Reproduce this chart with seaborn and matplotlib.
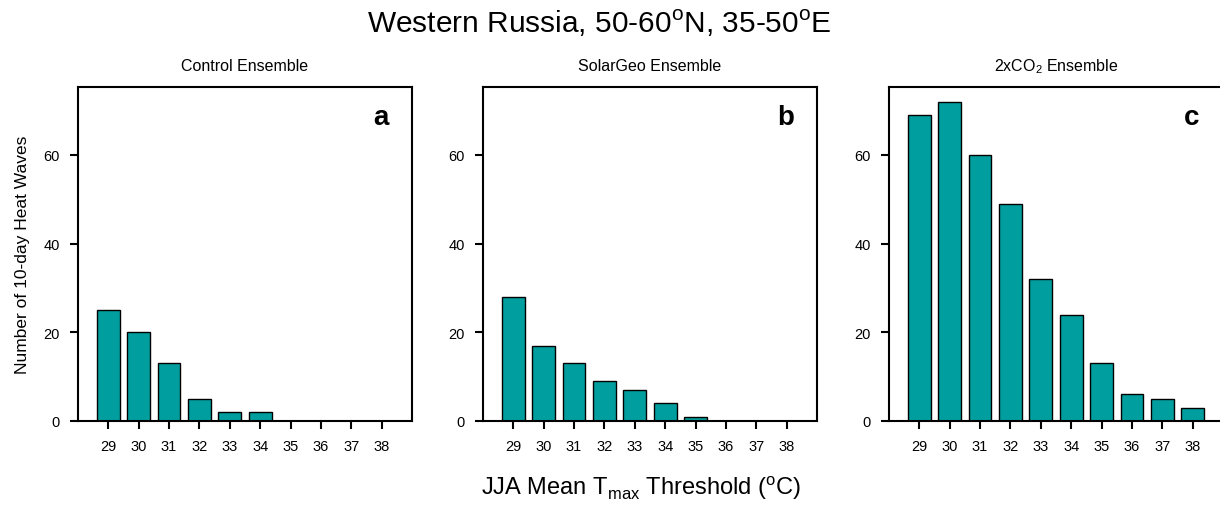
import numpy as np
import pandas as pd
import matplotlib
matplotlib.use("Agg")
import matplotlib.pyplot as plt
import seaborn as sns

# data
thresholds = ["29", "30", "31", "32", "33", "34", "35", "36", "37", "38"]
control = [25, 20, 13, 5, 2, 2, 0, 0, 0, 0]
solargeo = [28, 17, 13, 9, 7, 4, 1, 0, 0, 0]
co2 = [69, 72, 60, 49, 32, 24, 13, 6, 5, 3]

titles = ["Control Ensemble", "SolarGeo Ensemble", "2xCO$_\\mathregular{2}$ Ensemble"]
letters = ["a", "b", "c"]

sns.set_style("ticks")
plt.rcParams["font.family"] = ["Liberation Sans", "DejaVu Sans"]
for k in ["text.color", "axes.edgecolor", "axes.labelcolor", "xtick.color", "ytick.color"]:
    plt.rcParams[k] = "black"
plt.rcParams["mathtext.fontset"] = "custom"
plt.rcParams["mathtext.rm"] = "Liberation Sans"

fig = plt.figure(figsize=(12.2, 5.06), dpi=100)
lefts = [78, 483, 889]
axes = [fig.add_axes([l / 1220, 1 - 422 / 506, 334 / 1220, (422 - 88) / 506]) for l in lefts]

for ax, vals, title, letter in zip(axes, [control, solargeo, co2], titles, letters):
    df = pd.DataFrame({"thr": thresholds, "n": vals})
    sns.barplot(data=df, x="thr", y="n", color="#009e9e", saturation=1,
                edgecolor="black", linewidth=1.0, width=0.75, ax=ax)
    ax.set_xlim(-1, 10)
    ax.set_ylim(0, 75.3)
    ax.set_yticks([0, 20, 40, 60])
    ax.set_xlabel("")
    ax.set_ylabel("")
    for s in ax.spines.values():
        s.set_linewidth(1.5)
        s.set_visible(True)
    ax.tick_params(direction="out", length=6, width=1.5, pad=7, labelsize=10.5)
    ax.set_title(title, fontsize=11.5, pad=12)
    ax.text(0.93, 0.91, letter, transform=ax.transAxes, ha="right", va="center",
            fontsize=20, fontweight="bold")

axes[0].set_ylabel("Number of 10-day Heat Waves", fontsize=12.5, labelpad=10)

fig.text(0.491, 0.953, "Western Russia, 50-60$^\\mathregular{o}$N, 35-50$^\\mathregular{o}$E",
         ha="center", va="center", fontsize=21.5)
fig.text(0.525, 0.035, "JJA Mean T$_\\mathregular{max}$ Threshold ($^\\mathregular{o}$C)",
         ha="center", va="center", fontsize=17)

fig.savefig("out.png", dpi=100)
